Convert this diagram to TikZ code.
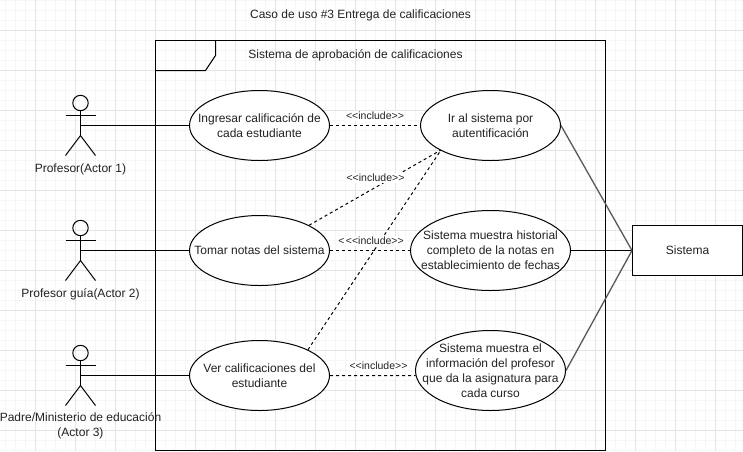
\documentclass[tikz,border=0pt]{standalone}
\usepackage{fontspec}
\newfontfamily\plainfont{Liberation Sans}
\usetikzlibrary{shapes.geometric}
\definecolor{gridmajor}{HTML}{E4E4E4}
\definecolor{gridminor}{HTML}{F6F6F6}
\definecolor{txt}{HTML}{222222}
\tikzset{
  usecase/.style={draw=black,fill=white,ellipse,line width=1pt,inner sep=0pt},
  label text/.style={font=\plainfont\fontsize{12}{15}\selectfont,text=txt,align=center,inner sep=0pt},
  incl/.style={fill=white,font=\plainfont\fontsize{10.5}{12}\selectfont,inner sep=1pt,text=txt},
  solidline/.style={draw=black,line width=1pt},
  dashline/.style={draw=black,line width=1pt,dash pattern=on 3pt off 3pt},
  grayline/.style={draw=black!65,line width=1.3pt},
  actorline/.style={draw=black,line width=1pt},
}
\begin{document}
\begin{tikzpicture}[x=1pt,y=-1pt]
\useasboundingbox (0,0) rectangle (743,451);
\fill[white] (0,0) rectangle (743,451);
% grid
\foreach \i in {0,...,74} {\draw[gridminor,line width=1pt] ({\i*10+5.5},0) -- ({\i*10+5.5},451);}
\foreach \i in {0,...,45} {\draw[gridminor,line width=1pt] (0,{\i*10+0.5}) -- (743,{\i*10+0.5});}
\foreach \i in {0,...,18} {\draw[gridmajor,line width=1pt] ({\i*40+35.5},0) -- ({\i*40+35.5},451);}
\foreach \i in {0,...,11} {\draw[gridmajor,line width=1pt] (0,{\i*40+30.5}) -- (743,{\i*40+30.5});}
% frame
\draw[solidline] (155.5,450) -- (155.5,40.5) -- (605.5,40.5) -- (605.5,450) -- cycle;
\draw[solidline] (155.5,70.5) -- (205.5,70.5) -- (215.5,55.5) -- (215.5,40.5);
\node[label text] (title) at (360.5,15) {Caso de uso \#3 Entrega de calificaciones};
\node[label text] (frametitle) at (355.5,55) {Sistema de aprobación de calificaciones};
% actor anchors
\coordinate (a1) at (80.5,125.5);
\coordinate (a2) at (80.5,250.5);
\coordinate (a3) at (80.5,375.5);
% use cases
\node[usecase,minimum width=140pt,minimum height=70pt,label={[label text]center:Ingresar calificación de\\cada estudiante}] (e1) at (259.5,125.5) {};
\node[usecase,minimum width=140pt,minimum height=70pt,label={[label text]center:Tomar notas del sistema}] (e2) at (259.5,250.5) {};
\node[usecase,minimum width=140pt,minimum height=70pt,label={[label text]center:Ver calificaciones del\\estudiante}] (e3) at (259.5,375.5) {};
\node[usecase,minimum width=140pt,minimum height=70pt,label={[label text]center:Ir al sistema por\\autentificación}] (r1) at (490.5,125.5) {};
\node[usecase,minimum width=160pt,minimum height=80pt,label={[label text]center:Sistema muestra historial\\completo de la notas en\\establecimiento de fechas}] (r2) at (490.5,250.5) {};
\node[usecase,minimum width=150pt,minimum height=80pt,label={[label text]center:Sistema muestra el\\información del profesor\\que da la asignatura para\\cada curso}] (r3) at (490.5,370.5) {};
\node[draw=black,fill=white,line width=1pt,minimum width=110pt,minimum height=50pt,inner sep=0pt,font=\plainfont\fontsize{12}{15}\selectfont,text=txt] (s) at (687.5,250.5) {Sistema};
\coordinate (r1in) at (441,150);
% actors
\foreach \y in {125.5,250.5,375.5} {
  \draw[actorline] (80.5,\y-22.5) circle[radius=7.7];
  \draw[actorline] (80.5,\y-15) -- (80.5,\y+10);
  \draw[actorline] (65.5,\y-10) -- (95.5,\y-10);
  \draw[actorline] (65.5,\y+30) -- (80.5,\y+10) -- (95.5,\y+30);
}
\draw[solidline] (a1) -- (e1.west);
\draw[solidline] (a2) -- (e2.west);
\draw[solidline] (a3) -- (e3.west);
\node[label text] (l1) at (80.5,169) {Profesor(Actor 1)};
\node[label text] (l2) at (80.5,294) {Profesor guía(Actor 2)};
\node[label text] (l3) at (80.5,425.5) {Padre/Ministerio de educación\\(Actor 3)};
% include
\draw[dashline] (e1.east) -- (r1.west);
\draw[dashline] (e2.east) -- (r2.west);
\draw[dashline] (e3.east) -- (r3.184);
\draw[dashline] (e2.27) -- (r1in);
\draw[dashline] (e3.28) -- (r1in);
\node[incl] (i1) at (375,116) {<<include>>};
\node[incl] (i2) at (375.5,178) {<<include>>};
\node[incl] (i3) at (371,241) {<\kern1.5pt<<include>>};
\node[incl] (i4) at (378.5,366) {<<include>>};
% to system
\draw[grayline] (r1.east) -- (s.west);
\draw[solidline] (r2.east) -- (s.west);
\draw[grayline] (r3.east) -- (s.west);
\end{tikzpicture}
\end{document}
